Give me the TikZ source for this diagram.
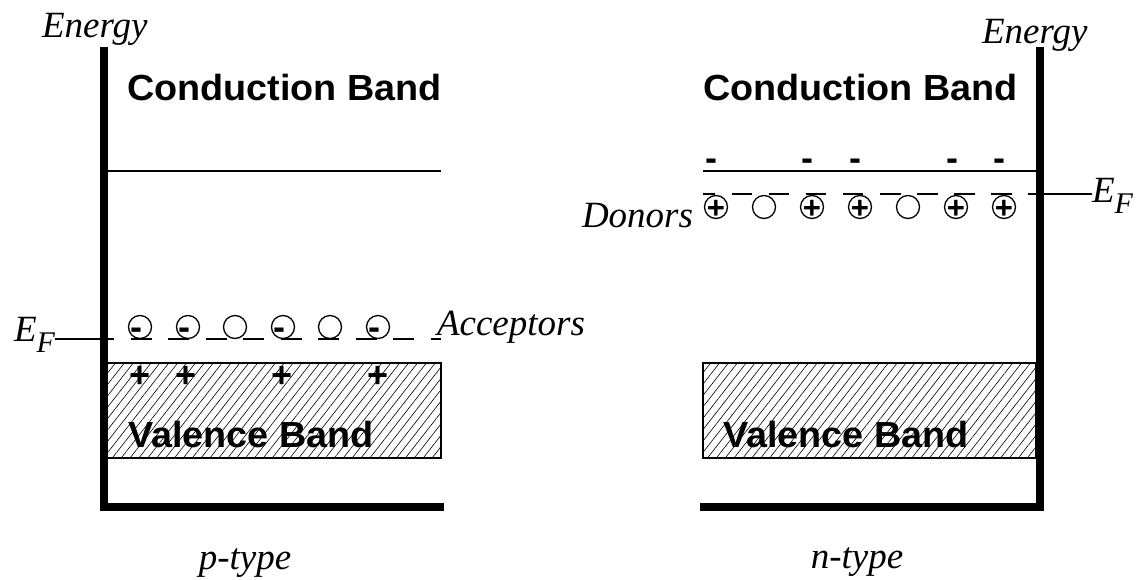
\documentclass[tikz,border=0pt]{standalone}
\usepackage{fontspec}
\setmainfont{Liberation Serif}
\newfontfamily\labelfont{Liberation Serif}
\newfontfamily\bandfont[FakeStretch=1.04]{Liberation Sans}
\newfontfamily\signfont{Liberation Sans}
\usetikzlibrary{patterns.meta}

\tikzset{
  every node/.style={inner sep=0pt, outer sep=0pt},
  axisline/.style={line width=8pt, line join=miter},
  bandline/.style={line width=2pt},
  hatched/.style={draw, line width=1.8pt,
    pattern={Lines[angle=52, distance=7pt, line width=0.6pt]}},
  fermidash/.style={line width=2pt},
  trap/.style={circle, draw, line width=1.3pt, minimum size=23pt},
  bandtext/.style={font=\bandfont\bfseries\fontsize{36.3}{42}\selectfont, anchor=base west},
  itext/.style={font=\labelfont\itshape\fontsize{37}{42}\selectfont},
  charge/.style={font=\signfont\bfseries\fontsize{36}{40}\selectfont},
  smallcharge/.style={font=\signfont\bfseries\fontsize{31}{36}\selectfont},
}
\newcommand{\fermi}{E\raisebox{-0.32em}{\fontsize{30}{34}\selectfont F}}

\begin{document}
\begin{tikzpicture}[x=1pt, y=-1pt]
\useasboundingbox (0,0) rectangle (1138,579);

% ---------------- p-type ----------------
\node[itext, anchor=base west] (enL) at (42,37) {Energy};
\node[bandtext] (cbL) at (127,100) {Conduction Band};
\draw[bandline] (108,171) -- (441,171);

% valence band
\draw[hatched] (107,363) rectangle (441,458);
\node[bandtext] (vbL) at (128,447) {Valence Band};
\foreach \x/\n in {140/1,186/2,282/3,378/4}
  \node[charge] (hp\n) at (\x,377) {+};

% acceptor levels and Fermi level
\draw[fermidash, dash pattern=on 21pt off 16.5pt, dash phase=15pt] (108,339) -- (441,339);
\foreach \x/\n in {140/1,188/2,235/3,283/4,330/5,378/6}
  \node[trap] (a\n) at (\x,327) {};
\foreach \n in {1,2,4,6}
  \node[charge, xshift=-4pt, yshift=-7pt] (am\n) at (a\n) {-};
\node[itext, anchor=base west] (accL) at (437,335) {Acceptors};
\node[itext, anchor=base west] (efL) at (14,341) {\fermi};
\coordinate (yEFL) at (0,339);
\coordinate (axL) at (104,339);
\draw[fermidash] (efL.east |- yEFL) -- (axL);

% axes
\draw[axisline] (104,47) -- (104,507) -- (444,507);
\node[itext, anchor=base] (pt) at (245,569) {p-type};

% ---------------- n-type ----------------
\node[itext, anchor=base west] (enR) at (982,43) {Energy};
\node[bandtext] (cbR) at (703,100) {Conduction Band};
\draw[bandline] (703,171) -- (1036,171);
\foreach \x/\n in {711/1,807/2,855/3,952/4,999/5}
  \node[charge] (el\n) at (\x,165) {-};

% donor levels and Fermi level
\draw[fermidash, dash pattern=on 20.5pt off 16.6pt, dash phase=8.5pt] (703,194) -- (1036,194);
\foreach \x/\n in {716/1,764/2,812/3,860/4,908/5,956/6,1004/7}
  \node[trap] (d\n) at (\x,207) {};
\foreach \n in {1,3,4,6,7}
  \node[smallcharge, yshift=-2pt] (dp\n) at (d\n) {+};
\node[itext, anchor=base west] (donR) at (582,227) {Donors};
\node[itext, anchor=base west] (efR) at (1092,202) {\fermi};
\coordinate (axR) at (1036,194);
\coordinate (yEFR) at (0,194);
\draw[fermidash] (axR) -- (efR.west |- yEFR);

% valence band
\draw[hatched] (703,363) rectangle (1036,458);
\node[bandtext] (vbR) at (723,447) {Valence Band};

% axes
\draw[axisline] (700,507) -- (1039.5,507) -- (1039.5,47);
\node[itext, anchor=base] (nt) at (857,568) {n-type};
\end{tikzpicture}
\end{document}
